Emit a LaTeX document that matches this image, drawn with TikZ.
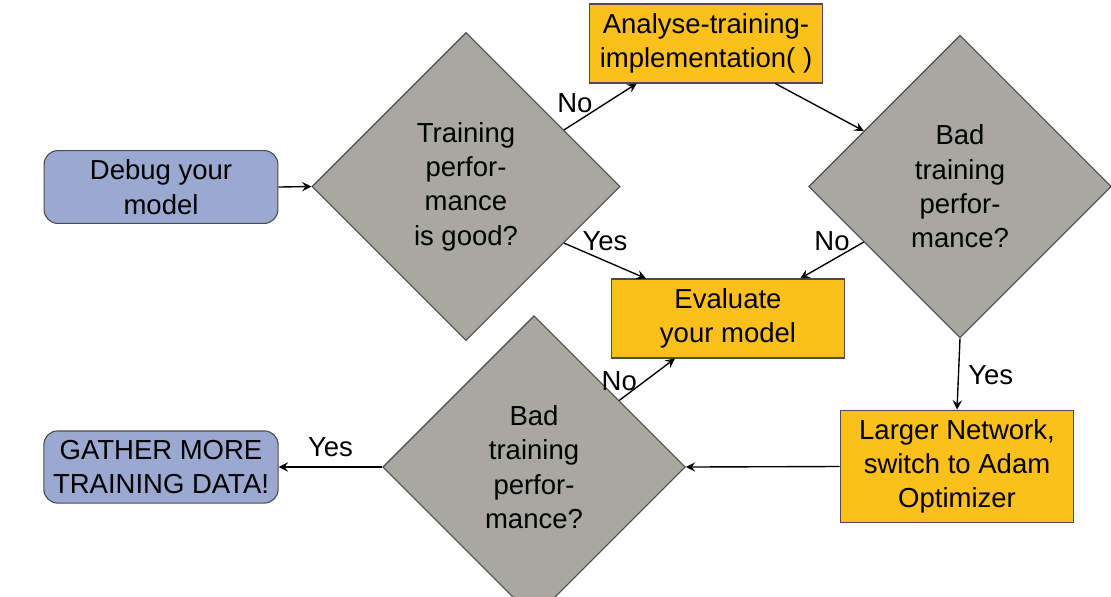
\documentclass[tikz,border=0pt]{standalone}
\usepackage{fontspec}
\setmainfont{Liberation Sans}
\linespread{1.04}
\usepackage{tikz}
\usetikzlibrary{shapes.geometric}
\tikzset{>=stealth}
\definecolor{termblue}{RGB}{155,169,209}
\definecolor{procyellow}{RGB}{252,192,28}
\definecolor{decgray}{RGB}{168,168,160}
\tikzset{
    terminal/.style={draw=black!70, fill=termblue, rounded corners=5pt, align=center, minimum width=85pt, minimum height=26pt},
    process/.style={draw=black!70, fill=procyellow, align=center, minimum width=85pt, minimum height=28.7pt},
    decision/.style={draw=black!70, fill=decgray, diamond, align=center, inner sep=0pt, minimum width=110pt, minimum height=110pt},
    flow/.style={->, line width=0.5pt}
}

\begin{document}
\begin{tikzpicture}[x=0.3636pt, y=-0.3636pt]
    \clip(0, 0) rectangle (1111, 596);
    \node[terminal](debug) at (161, 187){Debug your\\model};
    \node[decision, minimum width=112pt, minimum height=112pt](train) at (466, 186.5){Training\\perfor-\\mance\\is good?};
    \node[process](analyse) at (706, 43.5){Analyse-training-\\implementation( )};
    \node[decision](badtrain) at (960, 186.5){Bad\\training\\perfor-\\mance?};
    \node[process](evaluate) at (728, 318.5){Evaluate\\your model};
    \node[process, minimum height=41pt](larger) at (957, 466.5){Larger Network,\\switch to Adam\\Optimizer};
    \node[decision](badtest) at (534, 467){Bad\\training\\perfor-\\mance?};
    \node[terminal](gather) at (161, 467){GATHER MORE\\TRAINING DATA!};

    \draw[flow](debug.east)--(train.west);
    \draw[flow](train.30)--node[pos=.15, above]{No}(analyse.210);
    \draw[flow](train.-30)--node[pos=.5, above]{Yes}(evaluate.154);
    \draw[flow](analyse.-30)--(badtrain.150);
    \draw[flow](badtrain.210)--node[pos=.5, above]{No}(evaluate.29);
    \draw[flow](badtrain.south)--node[pos=.52, right]{Yes}(larger.north);
    \draw[flow](larger.west)--(badtest.east);
    \draw[flow](badtest.38)--node[pos=0, above]{No}(evaluate.217);
    \draw[flow](badtest.west)--node[midway, above]{Yes}(gather.east);
\end{tikzpicture}
\end{document}
